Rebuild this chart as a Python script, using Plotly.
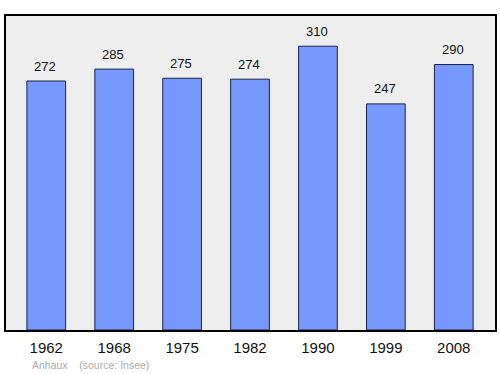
import plotly.graph_objects as go

years = ["1962", "1968", "1975", "1982", "1990", "1999", "2008"]
population = [272, 285, 275, 274, 310, 247, 290]
source_text = "Anhaux    (source: Insee)"

fig = go.Figure()
fig.add_trace(go.Bar(
    x=years, y=population, width=0.57,
    marker=dict(color="#7799ff", line=dict(color="#222244", width=1)),
    hoverinfo="skip",
))
for i, v in enumerate(population):
    fig.add_annotation(x=i, y=v, text=str(v), showarrow=False, yshift=15, xshift=-1,
                       font=dict(family="Liberation Sans, Arial", size=13, color="#111111"))
fig.add_annotation(xref="paper", yref="paper", x=0.05, y=-0.112, xanchor="left", yanchor="middle",
                   text=source_text, showarrow=False,
                   font=dict(family="Liberation Sans, Arial", size=10.5, color="#aaaaaa"))

fig.update_layout(
    width=500, height=374,
    margin=dict(l=6, r=3, t=16, b=44),
    paper_bgcolor="white", plot_bgcolor="#eeeeee",
    showlegend=False,
    xaxis=dict(type="category", range=[-0.593, 6.607], showgrid=False, ticks="outside", ticklen=3,
               tickcolor="rgba(0,0,0,0)", showline=True, linecolor="#000000",
               linewidth=1.5, mirror=True,
               tickfont=dict(family="Liberation Sans, Arial", size=15, color="#111111")),
    yaxis=dict(range=[0, 343], showgrid=False, showticklabels=False, ticks="", showline=True,
               linecolor="#000000", linewidth=1.5, mirror=True, zeroline=False),
)
fig.write_html("out.html")
